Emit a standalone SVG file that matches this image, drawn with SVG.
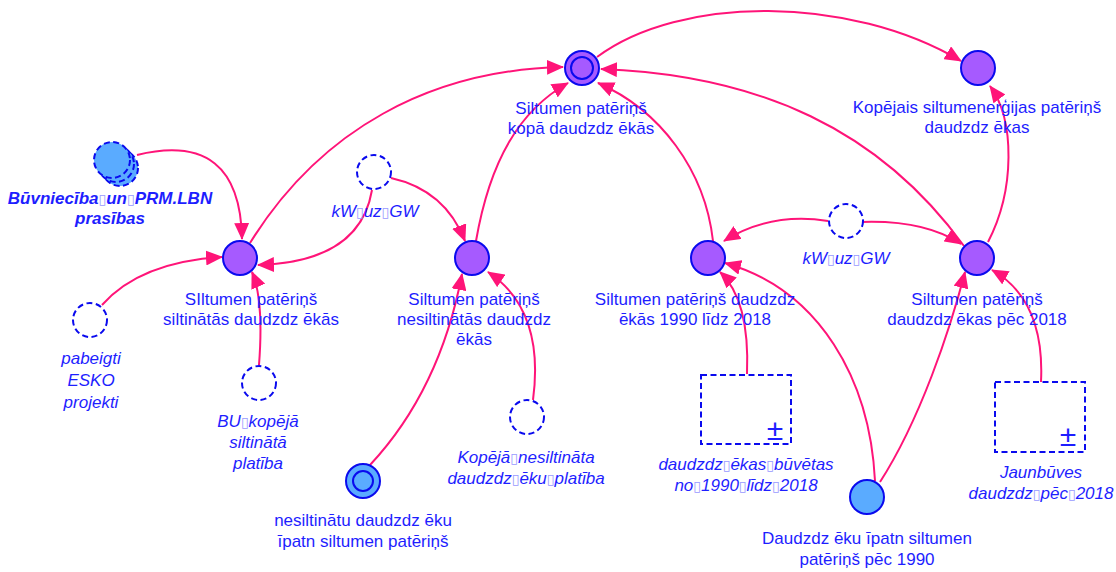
<svg xmlns="http://www.w3.org/2000/svg" width="1116" height="572" viewBox="0 0 1116 572">
  <defs>
    <marker id="arrow" markerWidth="17" markerHeight="15" refX="16" refY="7.5" orient="auto" markerUnits="userSpaceOnUse">
      <path d="M0,0 L17,7.5 L0,15 Z" fill="#ff1478"/>
    </marker>
    <style>
      .lbl { font-family: "Liberation Sans", Arial, sans-serif; font-size: 17px; fill: #1e1eff; text-anchor: middle; }
      .it { font-style: italic; }
      .bi { font-style: italic; font-weight: bold; }
      .tofu { font-family: "DejaVu Sans", sans-serif; font-size: 14px; fill: #9a9aff; font-style: normal; font-weight: normal; }
      .aux { fill: #a65aff; stroke: #0a0aee; stroke-width: 2; }
      .cst { fill: #5aabff; stroke: #0a0aee; stroke-width: 2; }
      .dash { fill: none; stroke: #0a0aee; stroke-width: 2; stroke-dasharray: 6 3.5; }
      .dashfill { fill: #5aabff; stroke: #0a0aee; stroke-width: 2; stroke-dasharray: 6 3.5; }
      .link { fill: none; stroke: #ff1478; stroke-width: 2; marker-end: url(#arrow); }
      .pm { font-family: "Liberation Sans", Arial, sans-serif; font-size: 30px; fill: #1e1eff; text-anchor: middle; }
    </style>
  </defs>

  <g id="connectors">
    <path class="link" d="M137,155 Q240,130 242,239"/>
    <path class="link" d="M102,305 Q140,262 222,257"/>
    <path class="link" d="M259,365 Q264,300 252,272"/>
    <path class="link" d="M372,190 Q360,262 258,265"/>
    <path class="link" d="M391,178 Q445,190 465,241"/>
    <path class="link" d="M250,243 C320,130 430,70 563,67"/>
    <path class="link" d="M476,241 C490,160 520,110 568,83"/>
    <path class="link" d="M713,241 C705,170 660,110 598,83"/>
    <path class="link" d="M964,246 C880,130 760,75 601,69"/>
    <path class="link" d="M597,57 C680,-5 850,-5 961,61"/>
    <path class="link" d="M988,242 C1015,190 1015,120 990,86"/>
    <path class="link" d="M828,221 Q770,212 724,241"/>
    <path class="link" d="M862,222 Q925,220 961,244"/>
    <path class="link" d="M747,374 Q750,300 720,272"/>
    <path class="link" d="M1041,382 Q1045,300 992,270"/>
    <path class="link" d="M875,481 C870,380 820,290 725,263"/>
    <path class="link" d="M880,482 C920,420 950,330 965,272"/>
    <path class="link" d="M370,465 Q440,390 462,274"/>
    <path class="link" d="M533,400 Q545,310 488,272"/>
  </g>

  <g id="kopa">
    <circle class="aux" cx="582" cy="68" r="17"/>
    <circle cx="582" cy="68" r="11" fill="none" stroke="#0a0aee" stroke-width="2"/>
    <text class="lbl" x="581" y="114">Siltumen patēriņš</text>
    <text class="lbl" x="581" y="134">kopā daudzdz ēkās</text>
  </g>

  <g id="kopejais">
    <circle class="aux" cx="978" cy="68" r="17"/>
    <text class="lbl" x="977" y="113">Kopējais siltumenerģijas patēriņš</text>
    <text class="lbl" x="977" y="133">daudzdz ēkas</text>
  </g>

  <g id="buvnieciba">
    <circle class="dashfill" cx="120" cy="168" r="18"/>
    <circle class="dashfill" cx="116" cy="164" r="18"/>
    <circle class="dashfill" cx="112" cy="160" r="18"/>
    <text class="lbl bi" x="110" y="204">Būvniecība<tspan class="tofu">▯</tspan>un<tspan class="tofu">▯</tspan>PRM.LBN</text>
    <text class="lbl bi" x="110" y="224">prasības</text>
  </g>

  <g id="siltinatas">
    <circle class="aux" cx="240" cy="258" r="17"/>
    <text class="lbl" x="251" y="305">SIltumen patēriņš</text>
    <text class="lbl" x="251" y="325">siltinātās daudzdz ēkās</text>
  </g>

  <g id="kw1">
    <circle class="dash" cx="374" cy="172" r="17"/>
    <text class="lbl it" x="375" y="217">kW<tspan class="tofu">▯</tspan>uz<tspan class="tofu">▯</tspan>GW</text>
  </g>

  <g id="nesiltinatas">
    <circle class="aux" cx="472" cy="258" r="17"/>
    <text class="lbl" x="474" y="305">Siltumen patēriņš</text>
    <text class="lbl" x="474" y="325">nesiltinātās daudzdz</text>
    <text class="lbl" x="474" y="345">ēkās</text>
  </g>

  <g id="p1990">
    <circle class="aux" cx="708" cy="258" r="17"/>
    <text class="lbl" x="695" y="305">Siltumen patēriņš daudzdz</text>
    <text class="lbl" x="695" y="325">ēkās 1990 līdz 2018</text>
  </g>

  <g id="kw2">
    <circle class="dash" cx="846" cy="221" r="17"/>
    <text class="lbl it" x="846" y="264">kW<tspan class="tofu">▯</tspan>uz<tspan class="tofu">▯</tspan>GW</text>
  </g>

  <g id="p2018">
    <circle class="aux" cx="977" cy="258" r="17"/>
    <text class="lbl" x="977" y="305">Siltumen patēriņš</text>
    <text class="lbl" x="977" y="325">daudzdz ēkas pēc 2018</text>
  </g>

  <g id="esko">
    <circle class="dash" cx="90" cy="320" r="17"/>
    <text class="lbl it" x="91" y="364">pabeigti</text>
    <text class="lbl it" x="91" y="386">ESKO</text>
    <text class="lbl it" x="91" y="408">projekti</text>
  </g>

  <g id="bu">
    <circle class="dash" cx="259" cy="383" r="17"/>
    <text class="lbl it" x="258" y="427">BU<tspan class="tofu">▯</tspan>kopējā</text>
    <text class="lbl it" x="258" y="448">siltinātā</text>
    <text class="lbl it" x="258" y="469">platība</text>
  </g>

  <g id="nesilt_platiba">
    <circle class="dash" cx="527" cy="417" r="17"/>
    <text class="lbl it" x="526" y="463">Kopējā<tspan class="tofu">▯</tspan>nesiltināta</text>
    <text class="lbl it" x="526" y="484">daudzdz<tspan class="tofu">▯</tspan>ēku<tspan class="tofu">▯</tspan>platība</text>
  </g>

  <g id="ipatn">
    <circle class="cst" cx="363" cy="481" r="17"/>
    <circle cx="363" cy="481" r="10" fill="none" stroke="#0a0aee" stroke-width="2"/>
    <text class="lbl" x="363" y="526">nesiltinātu daudzdz ēku</text>
    <text class="lbl" x="363" y="547">īpatn siltumen patēriņš</text>
  </g>

  <g id="buvetas">
    <rect class="dash" x="701" y="375" width="90" height="69"/>
    <text class="pm" x="775" y="440">±</text>
    <text class="lbl it" x="746" y="470">daudzdz<tspan class="tofu">▯</tspan>ēkas<tspan class="tofu">▯</tspan>būvētas</text>
    <text class="lbl it" x="746" y="491">no<tspan class="tofu">▯</tspan>1990<tspan class="tofu">▯</tspan>līdz<tspan class="tofu">▯</tspan>2018</text>
  </g>

  <g id="jaunbuves">
    <rect class="dash" x="995" y="382" width="90" height="70"/>
    <text class="pm" x="1068" y="446">±</text>
    <text class="lbl it" x="1041" y="478">Jaunbūves</text>
    <text class="lbl it" x="1041" y="499">daudzdz<tspan class="tofu">▯</tspan>pēc<tspan class="tofu">▯</tspan>2018</text>
  </g>

  <g id="ipatn1990">
    <circle class="cst" cx="867" cy="497" r="17"/>
    <text class="lbl" x="867" y="544">Daudzdz ēku īpatn siltumen</text>
    <text class="lbl" x="867" y="565">patēriņš pēc 1990</text>
  </g>
</svg>
